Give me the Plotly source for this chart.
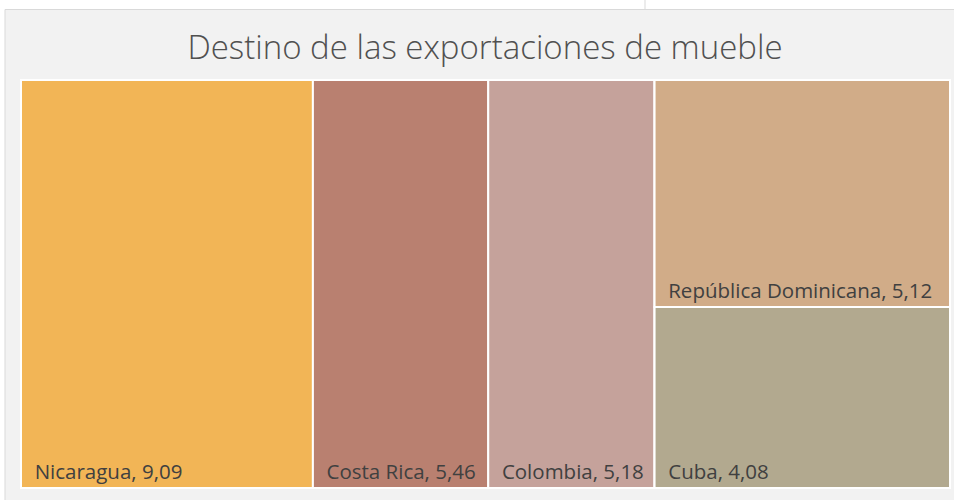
import plotly.graph_objects as go

# Data
countries = ["Nicaragua", "Costa Rica", "Colombia", "República Dominicana", "Cuba"]
values = [9.09, 5.46, 5.18, 5.12, 4.08]
group_of = ["", "", "", "grupo", "grupo"]
colors = ["#F2B556", "#B98070", "#C5A29B", "#D1AC88", "#B2A98F"]

ids = countries[:3] + ["grupo"] + countries[3:]
labels = countries[:3] + [""] + countries[3:]
parents = group_of[:3] + [""] + group_of[3:]
vals = values[:3] + [0] + values[3:]
cols = colors[:3] + ["rgba(0,0,0,0)"] + colors[3:]
tpl = "\u00a0\u00a0%{label}, %{value:.2f}"
templates = [tpl] * 3 + [" "] + [tpl] * 2

fig = go.Figure(go.Treemap(
    ids=ids,
    labels=labels,
    parents=parents,
    values=vals,
    branchvalues="remainder",
    sort=False,
    marker=dict(colors=cols, line=dict(color="white", width=2),
                pad=dict(t=0, l=0, r=0, b=0)),
    tiling=dict(packing="slice-dice", pad=0),
    pathbar=dict(visible=False),
    texttemplate=templates,
    textposition="bottom left",
    textfont=dict(family="Open Sans", size=20.5, color="#404040"),
    hoverinfo="skip",
    domain=dict(x=[21/954, 950/954], y=[12/500, 420/500]),
))

fig.update_layout(
    width=954, height=500,
    margin=dict(l=0, r=0, t=0, b=0),
    paper_bgcolor="#F2F2F2",
    separators=",.",
    title=dict(text="Destino de las exportaciones de mueble",
               x=485/954, xanchor="center", y=1-47/500, yanchor="middle",
               font=dict(family="Open Sans", size=33, color="#505050", weight=300)),
    shapes=[
        dict(type="rect", xref="paper", yref="paper", x0=0, x1=1, y0=1-9/500, y1=1,
             fillcolor="white", line=dict(width=0), layer="above"),
        dict(type="rect", xref="paper", yref="paper", x0=0, x1=5/954, y0=0, y1=1,
             fillcolor="white", line=dict(width=0), layer="above"),
        dict(type="line", xref="paper", yref="paper", x0=5/954, x1=1, y0=1-9.5/500, y1=1-9.5/500,
             line=dict(color="#D9D9D9", width=1)),
        dict(type="line", xref="paper", yref="paper", x0=5/954, x1=5/954, y0=0, y1=1-9.5/500,
             line=dict(color="#D9D9D9", width=1)),
        dict(type="line", xref="paper", yref="paper", x0=645/954, x1=645/954, y0=1-9.5/500, y1=1,
             line=dict(color="#D9D9D9", width=1)),
    ],
)

fig.write_html("out.html", config={"displayModeBar": False},
               post_script="document.body.style.margin='0';")
